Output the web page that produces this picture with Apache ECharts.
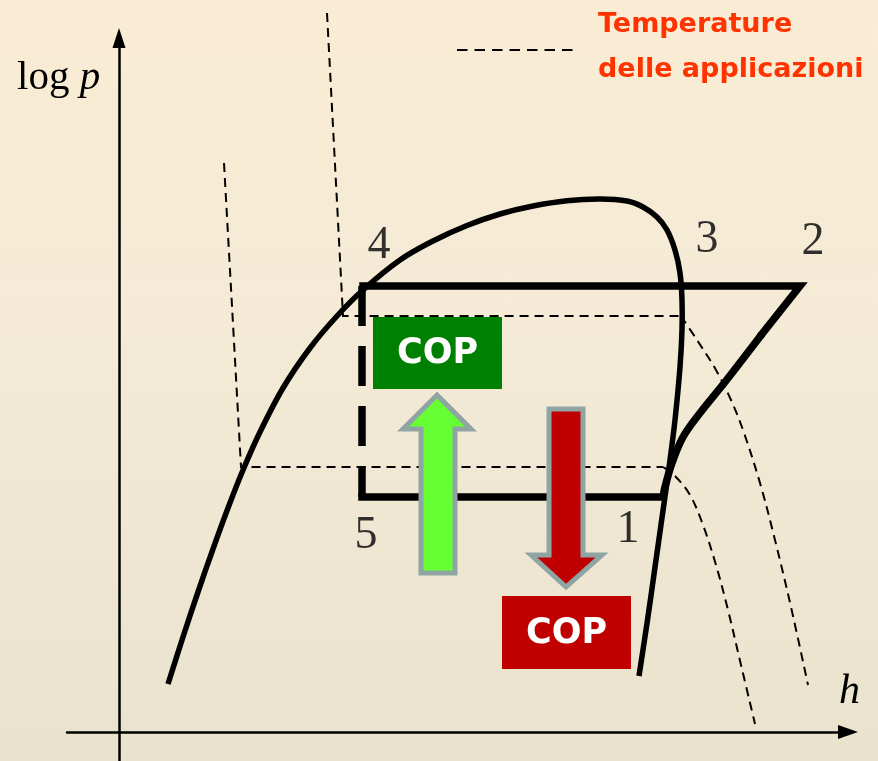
<!DOCTYPE html>
<html>
<head>
<meta charset="utf-8">
<script src="https://cdn.jsdelivr.net/npm/echarts@6/dist/echarts.min.js"></script>
<style>
  html, body { margin: 0; padding: 0; }
  body { width: 878px; height: 761px; background: linear-gradient(to bottom, #faecd4 0%, #f3ead6 50%, #e9e2cc 100%); }
  #chart { width: 878px; height: 761px; }
</style>
</head>
<body>
<div id="chart"></div>
<script>
// ---- Data (h, log p) in schematic units; origin at the axis crossing ----
const dome = [[49,48],[64,95],[79,140],[94,183],[109,224],[124,262],[141,300],[164,344],[191,384],[218,416],[244,442],[281,472],[314,491],[348,506.5],[381,518],[414,526],[448,531.3],[481,533],[508,531],[524,525],[538,515],[548,502],[556,482],[561,459],[563,432],[563,402],[561,365],[556,312],[551,272],[545.5,232],[537,172],[528.5,112],[520,56]];
const cycleTop = [[244,446],[681,446],[643,398]];
const cycleCurve = [[643,398],[606,350],[581,319],[564,295],[553,269],[546,245],[544,235]];
const cycleBottom = [[544,235],[243,235]];
const cycleDashed = [[243,446],[243,235]];
const isoLowStraight = [[105,569],[122,265],[544,265]];
const isoLowCurve = [[544,265],[556,256],[571,237],[584,207],[597,167],[609,122],[622,67],[636,8]];
const isoHighStraight = [[208,719],[224,416],[562,416]];
const isoHighCurve = [[562,416],[578,392],[597,362],[612,332],[624,302],[641,249],[656,192],[672,125],[689,47]];
const legendLine = [[338,682],[459,682]];
const arrowUp = [[318,337],[352,303],[336,303],[336,159],[302,159],[302,303],[284,303]];
const arrowDown = [[430,323],[464,323],[464,177],[483,177],[447,145],[412,177],[430,177]];
const copBoxes = [[254,343,383,415,'#008000'],[383,63,512,136,'#c00000']];
const pointLabels = [['4',260,486],['3',588,492],['2',694,490],['5',247,196],['1',509,202]];
const legendTexts = ['Temperature','delle applicazioni'];

const chart = echarts.init(document.getElementById('chart'));

function curve(pts, width, dash, smooth, z, cap) {
  return {
    type: 'custom', z: z || 2, silent: true, clip: false,
    data: [pts[Math.floor(pts.length / 2)]],
    renderItem: function (params, api) {
      return {
        type: 'polyline',
        shape: { points: pts.map(p => api.coord(p)), smooth: smooth || 0 },
        style: { stroke: '#000', fill: null, lineWidth: width, lineDash: dash || null, lineCap: cap || 'butt', lineJoin: 'miter' }
      };
    }
  };
}
function polygonSeries(pts, fill) {
  return {
    type: 'custom', z: 10, silent: true, clip: false, data: [pts[0]],
    renderItem: function (params, api) {
      return { type: 'polygon', shape: { points: pts.map(p => api.coord(p)) },
        style: { fill: fill, stroke: '#8fa5a4', lineWidth: 5, lineJoin: 'miter' } };
    }
  };
}

const series = [
  curve(dome, 5.5, null, 0.35, 3, 'butt'),
  curve(isoLowStraight, 2, [9, 6], 0, 2),
  curve(isoLowCurve, 2, [9, 6], 0.35, 2),
  curve(isoHighStraight, 2, [9, 6], 0, 2),
  curve(isoHighCurve, 2, [9, 6], 0.35, 2),
  curve(legendLine, 2.2, [10.5, 7], 0, 2),
  curve(cycleTop, 7.5, null, 0, 4, 'square'),
  curve(cycleCurve, 7.5, null, 0.35, 4, 'butt'),
  curve(cycleBottom, 7.5, null, 0, 4, 'square'),
  curve(cycleDashed, 7.5, [40, 20], 0, 4),
  polygonSeries(arrowUp, '#66ff33'),
  polygonSeries(arrowDown, '#c00000'),
  {
    type: 'custom', z: 11, silent: true, data: copBoxes.map(b => [b[0], b[1]]),
    renderItem: function (params, api) {
      const b = copBoxes[params.dataIndex];
      const p0 = api.coord([b[0], b[3]]);
      const p1 = api.coord([b[2], b[1]]);
      return { type: 'group', children: [
        { type: 'rect', shape: { x: p0[0], y: p0[1], width: p1[0] - p0[0], height: p1[1] - p0[1] }, style: { fill: b[4] } },
        { type: 'text', x: (p0[0] + p1[0]) / 2, y: (p0[1] + p1[1]) / 2 + 1,
          style: { text: 'COP', fill: '#ffffff', font: 'bold 35px "DejaVu Sans"', align: 'center', verticalAlign: 'middle' } }
      ] };
    }
  },
  {
    type: 'scatter', z: 12, silent: true, symbolSize: 0,
    data: pointLabels.map(l => ({ name: l[0], value: [l[1], l[2]] })),
    label: { show: true, position: 'inside', formatter: '{b}', color: '#000', fontFamily: 'Liberation Serif', fontSize: 46 }
  }
];

chart.setOption({
  animation: false,
  backgroundColor: 'transparent',
  grid: { left: 67, right: 30, top: 38, bottom: 0 },
  xAxis: {
    type: 'value', min: -52, max: 729,
    axisLine: { show: true, onZero: true, symbol: ['none', 'triangle'], symbolSize: [14, 20], lineStyle: { color: '#000', width: 2.5 } },
    axisTick: { show: false }, axisLabel: { show: false }, splitLine: { show: false }
  },
  yAxis: {
    type: 'value', min: -29, max: 694,
    axisLine: { show: true, onZero: true, symbol: ['none', 'triangle'], symbolSize: [13, 20], lineStyle: { color: '#000', width: 2.5 } },
    axisTick: { show: false }, axisLabel: { show: false }, splitLine: { show: false }
  },
  graphic: [
    { type: 'text', x: 17, y: 78, silent: true,
      style: { text: '{a|log }{b|p}', verticalAlign: 'middle', fill: '#000',
        rich: { a: { fontFamily: 'Liberation Serif', fontSize: 41, color: '#000' },
                b: { fontFamily: 'Liberation Serif', fontSize: 41, fontStyle: 'italic', color: '#000' } } } },
    { type: 'text', x: 839, y: 692, silent: true,
      style: { text: 'h', font: 'italic 42px "Liberation Serif"', fill: '#000', verticalAlign: 'middle' } },
    { type: 'text', x: 598, y: 25, silent: true,
      style: { text: legendTexts[0], font: 'bold 27px "DejaVu Sans"', fill: '#ff3300', verticalAlign: 'middle' } },
    { type: 'text', x: 598, y: 70, silent: true,
      style: { text: legendTexts[1], font: 'bold 27px "DejaVu Sans"', fill: '#ff3300', verticalAlign: 'middle' } }
  ],
  series: series
});
</script>
</body>
</html>
